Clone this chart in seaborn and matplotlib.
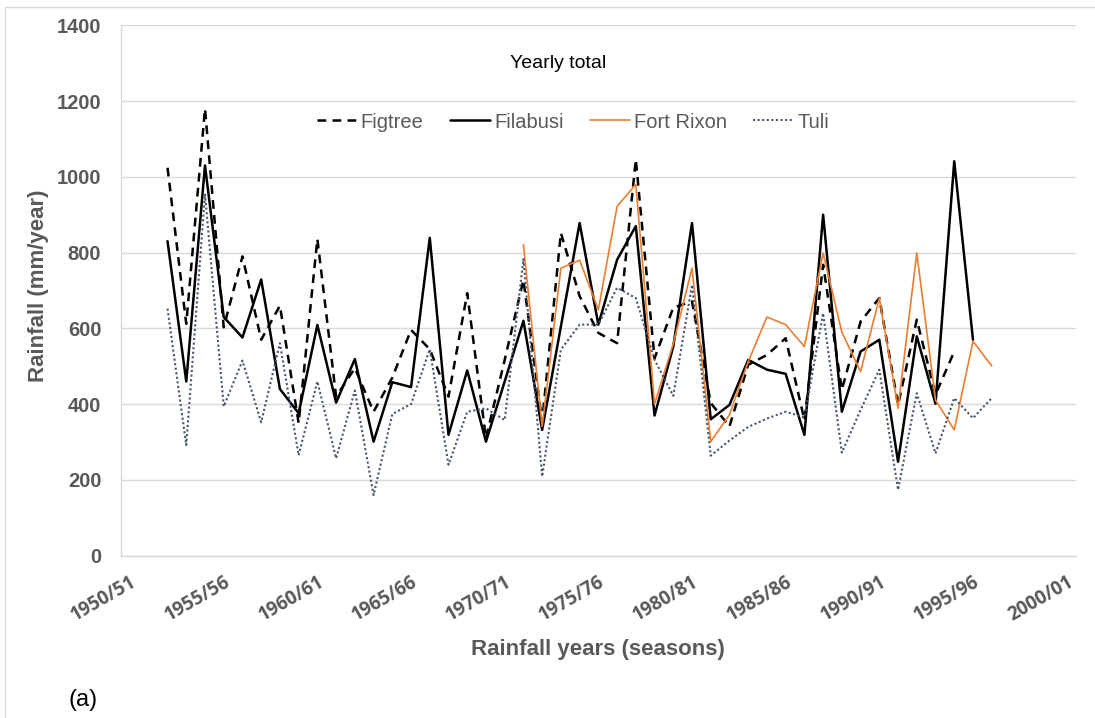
import numpy as np
import pandas as pd
import matplotlib
matplotlib.use("Agg")
import matplotlib.pyplot as plt
from matplotlib.patches import Rectangle
import seaborn as sns

# ---------------- data ----------------
seasons = [f"{y}/{str(y + 1)[-2:]}" for y in range(1950, 2001)]
tick_labels = seasons[::5]

N = None
figtree = [N, N, 1024, 612, 1180, 603, 790, 570, 660, 350, 836, 420, 495, 380, 470, 596,
           545, 420, 693, 310, 517, 728, 354, 852, 685, 588, 561, 1046, 521, 655, 671,
           403, 341, 504, 530, 574, 358, 768, 438, 618, 680, 398, 623, 425, 539,
           N, N, N, N, N, N]
filabusi = [N, N, 830, 460, 1030, 630, 576, 729, 440, 376, 609, 404, 519, 301, 458, 445,
            839, 319, 489, 301, 460, 620, 332, 605, 878, 610, 781, 870, 370, 552, 878,
            360, 398, 517, 491, 480, 319, 900, 380, 539, 570, 248, 579, 401, 1041, 570,
            N, N, N, N, N]
fort_rixon = [N] * 21 + [821, 341, 759, 780, 649, 922, 980, 400, 559, 759,
                         301, 372, 512, 630, 610, 552, 799, 590, 486, 680,
                         389, 799, 411, 332, 566, 501] + [N] * 4
tuli = [N, N, 652, 292, 955, 394, 515, 352, 561, 265, 460, 257, 436, 160, 374, 400,
        545, 240, 380, 389, 358, 783, 209, 544, 610, 610, 707, 680, 517, 422, 715,
        264, 304, 340, 362, 380, 365, 640, 272, 385, 491, 174, 429, 270, 416, 363, 416,
        N, N, N, N]

series_names = ["Figtree", "Filabusi", "Fort Rixon", "Tuli"]
series_values = [figtree, filabusi, fort_rixon, tuli]

# ---------------- style ----------------
sns.set_style("white")
plt.rcParams["font.family"] = ["Liberation Sans", "DejaVu Sans"]

GRAY_TXT = "#595959"
GRID = "#d9d9d9"
colors = {"Figtree": "black", "Filabusi": "black", "Fort Rixon": "#ED7D31", "Tuli": "#44546A"}
widths = {"Figtree": 1.8, "Filabusi": 1.8, "Fort Rixon": 1.2, "Tuli": 1.5}
dashes = {"Figtree": (3.5, 2.5), "Filabusi": None, "Fort Rixon": None, "Tuli": (1.0, 1.2)}

W, H = 1095, 718
fig, ax = plt.subplots(figsize=(W / 100, H / 100), dpi=100)
x0, x1, ytop, ybot = 120.7, 1076.0, 25.3, 555.7
fig.subplots_adjust(left=x0 / W, right=x1 / W, top=1 - ytop / H, bottom=1 - ybot / H)

x_pos = np.arange(len(seasons))
handles = []
for name, vals in zip(series_names, series_values):
    y = np.array([np.nan if v is None else v for v in vals], dtype=float)
    df = pd.DataFrame({"x": x_pos, "y": y}).dropna()
    sns.lineplot(data=df, x="x", y="y", ax=ax, color=colors[name],
                 linewidth=widths[name], estimator=None, errorbar=None)
    line = ax.lines[-1]
    if dashes[name] is not None:
        line.set_dashes(dashes[name])
    line.set_label(name)
    handles.append(line)

ax.set_xlim(-0.5, len(seasons) - 0.5)
ax.set_ylim(0, 1400)
ax.set_yticks(np.arange(0, 1401, 200))
ax.yaxis.grid(True, color=GRID, linewidth=1.0)
ax.xaxis.grid(False)
ax.set_axisbelow(True)

ax.set_xticks(x_pos[::5])
ax.set_xticklabels(tick_labels, rotation=30, ha="right", va="top",
                   rotation_mode="anchor", fontsize=13.5, fontweight="bold",
                   color=GRAY_TXT, family=["Open Sans", "DejaVu Sans"])
ax.set_xticks(np.arange(-0.5, len(seasons) - 1, 5), minor=True)
ax.tick_params(axis="x", which="major", length=0, pad=12)
ax.tick_params(axis="x", which="minor", direction="inout", length=10, width=1, color=GRID)
ax.tick_params(axis="y", length=0, pad=14, labelsize=14.5, labelcolor=GRAY_TXT)
for lab in ax.get_yticklabels():
    lab.set_fontweight("bold")

for s in ["top", "right"]:
    ax.spines[s].set_visible(False)
for s in ["left", "bottom"]:
    ax.spines[s].set_color(GRID)
    ax.spines[s].set_linewidth(1.0)

ax.set_xlabel("Rainfall years (seasons)", fontsize=16, fontweight="bold",
              color=GRAY_TXT, va="center")
ax.xaxis.set_label_coords((598 - x0) / (x1 - x0), (ybot - 650) / (ybot - ytop))
ax.set_ylabel("Rainfall (mm/year)", fontsize=16, fontweight="bold",
              color=GRAY_TXT, va="center")
ax.yaxis.set_label_coords((39 - x0) / (x1 - x0), (ybot - 286) / (ybot - ytop))

ax.text((558 - x0) / (x1 - x0), (ybot - 68.5) / (ybot - ytop), "Yearly total",
        transform=ax.transAxes, ha="center", va="baseline", fontsize=14, color="black")

ax.legend(handles=handles, labels=series_names, ncol=4, loc="center",
          bbox_to_anchor=((573 - x0) / (x1 - x0), (ybot - 122) / (ybot - ytop)),
          frameon=False, fontsize=14.5, handlelength=2.0, handletextpad=0.2,
          columnspacing=1.3, labelcolor=GRAY_TXT, borderaxespad=0)

fig.text(68 / W, 1 - 700 / H, "(a)", ha="left", va="center", fontsize=17, color="black")

fig.patches.append(Rectangle((4.5 / W, -0.1), 1.2, 1.1 - 6.5 / H, transform=fig.transFigure,
                             fill=False, edgecolor=GRID, linewidth=1.0, zorder=0))

fig.savefig("out.png", dpi=100)
